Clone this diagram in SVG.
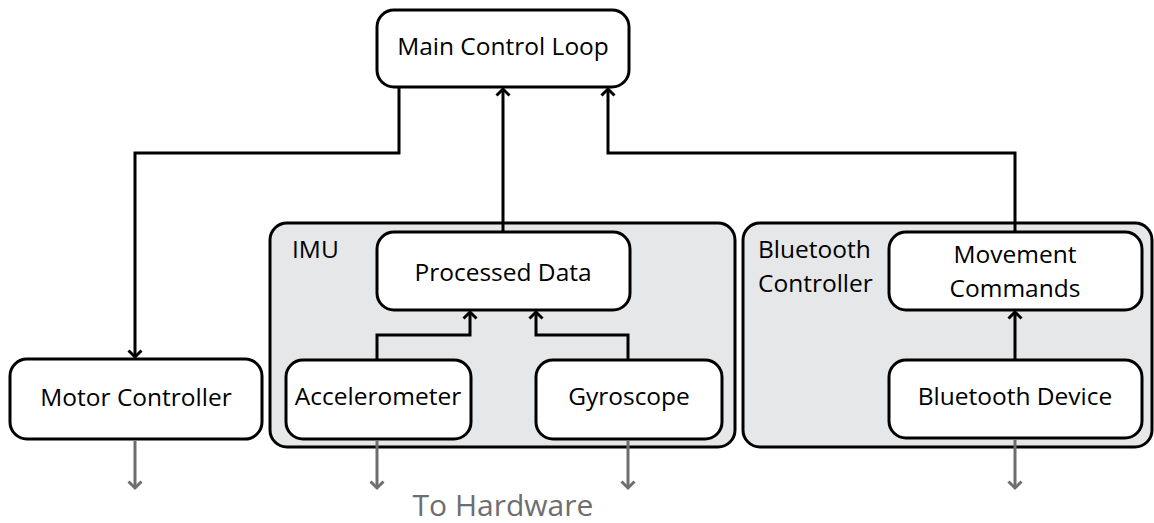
<svg xmlns="http://www.w3.org/2000/svg" width="1154" height="523" viewBox="0 0 1154 523">
<defs>
<marker id="ah" markerUnits="userSpaceOnUse" markerWidth="20" markerHeight="20" viewBox="-10 -10 20 20" refX="0" refY="0" orient="auto">
<path d="M-6.5,-6.5 L0,0 L-6.5,6.5" fill="none" stroke="#000" stroke-width="3"/>
</marker>
<marker id="ahg" markerUnits="userSpaceOnUse" markerWidth="20" markerHeight="20" viewBox="-10 -10 20 20" refX="0" refY="0" orient="auto">
<path d="M-6.5,-6.5 L0,0 L-6.5,6.5" fill="none" stroke="#6d6e71" stroke-width="3"/>
</marker>
</defs>
<style>
.box{fill:#fff;stroke:#000;stroke-width:3}
.grp{fill:#e6e7e8;stroke:#000;stroke-width:3}
.t{font-family:"Open Sans","Liberation Sans",sans-serif;font-size:24.5px;fill:#000}
.c{text-anchor:middle}
.ln{fill:none;stroke:#000;stroke-width:3;marker-end:url(#ah)}
.gl{fill:none;stroke:#6d6e71;stroke-width:3;marker-end:url(#ahg)}
</style>
<rect width="1154" height="523" fill="#fff"/>
<g id="imu-group">
<rect class="grp" x="270" y="223" width="465" height="224" rx="17"/>
<text class="t" x="292" y="258">IMU</text>
</g>
<g id="bt-group">
<rect class="grp" x="743" y="223" width="409" height="224" rx="17"/>
<text class="t" x="758" y="258">Bluetooth</text>
<text class="t" x="758" y="292">Controller</text>
</g>
<g id="main-control-loop">
<rect class="box" x="377" y="10" width="252" height="77" rx="17"/>
<text class="t c" x="503" y="55">Main Control Loop</text>
</g>
<g id="motor-controller">
<rect class="box" x="10" y="359" width="252" height="80" rx="17"/>
<text class="t c" x="136" y="406">Motor Controller</text>
</g>
<g id="processed-data">
<rect class="box" x="377" y="232" width="253" height="78" rx="17"/>
<text class="t c" x="503" y="281">Processed Data</text>
</g>
<g id="accelerometer">
<rect class="box" x="286" y="360" width="185" height="79" rx="17"/>
<text class="t c" x="378" y="405">Accelerometer</text>
</g>
<g id="gyroscope">
<rect class="box" x="536" y="360" width="186" height="79" rx="17"/>
<text class="t c" x="629" y="405">Gyroscope</text>
</g>
<g id="movement-commands">
<rect class="box" x="889" y="232" width="253" height="78" rx="17"/>
<text class="t c" x="1015" y="263">Movement</text>
<text class="t c" x="1015" y="297">Commands</text>
</g>
<g id="bluetooth-device">
<rect class="box" x="889" y="360" width="253" height="78" rx="17"/>
<text class="t c" x="1015" y="405">Bluetooth Device</text>
</g>
<g id="connectors">
<path class="ln" d="M399,87 V153 H135 V357"/>
<path class="ln" d="M503,232 V89"/>
<path class="ln" d="M1015,232 V153 H608 V89"/>
<path class="ln" d="M377,360 V335 H470 V312"/>
<path class="ln" d="M628,360 V335 H536 V312"/>
<path class="ln" d="M1015,360 V312"/>
<path class="gl" d="M135,441 V488"/>
<path class="gl" d="M377,441 V488"/>
<path class="gl" d="M628,441 V488"/>
<path class="gl" d="M1015,440 V488"/>
</g>
<text id="to-hardware" x="503" y="516" font-family="Open Sans, Liberation Sans, sans-serif" font-size="30" fill="#6d6e71" text-anchor="middle">To Hardware</text>
</svg>
